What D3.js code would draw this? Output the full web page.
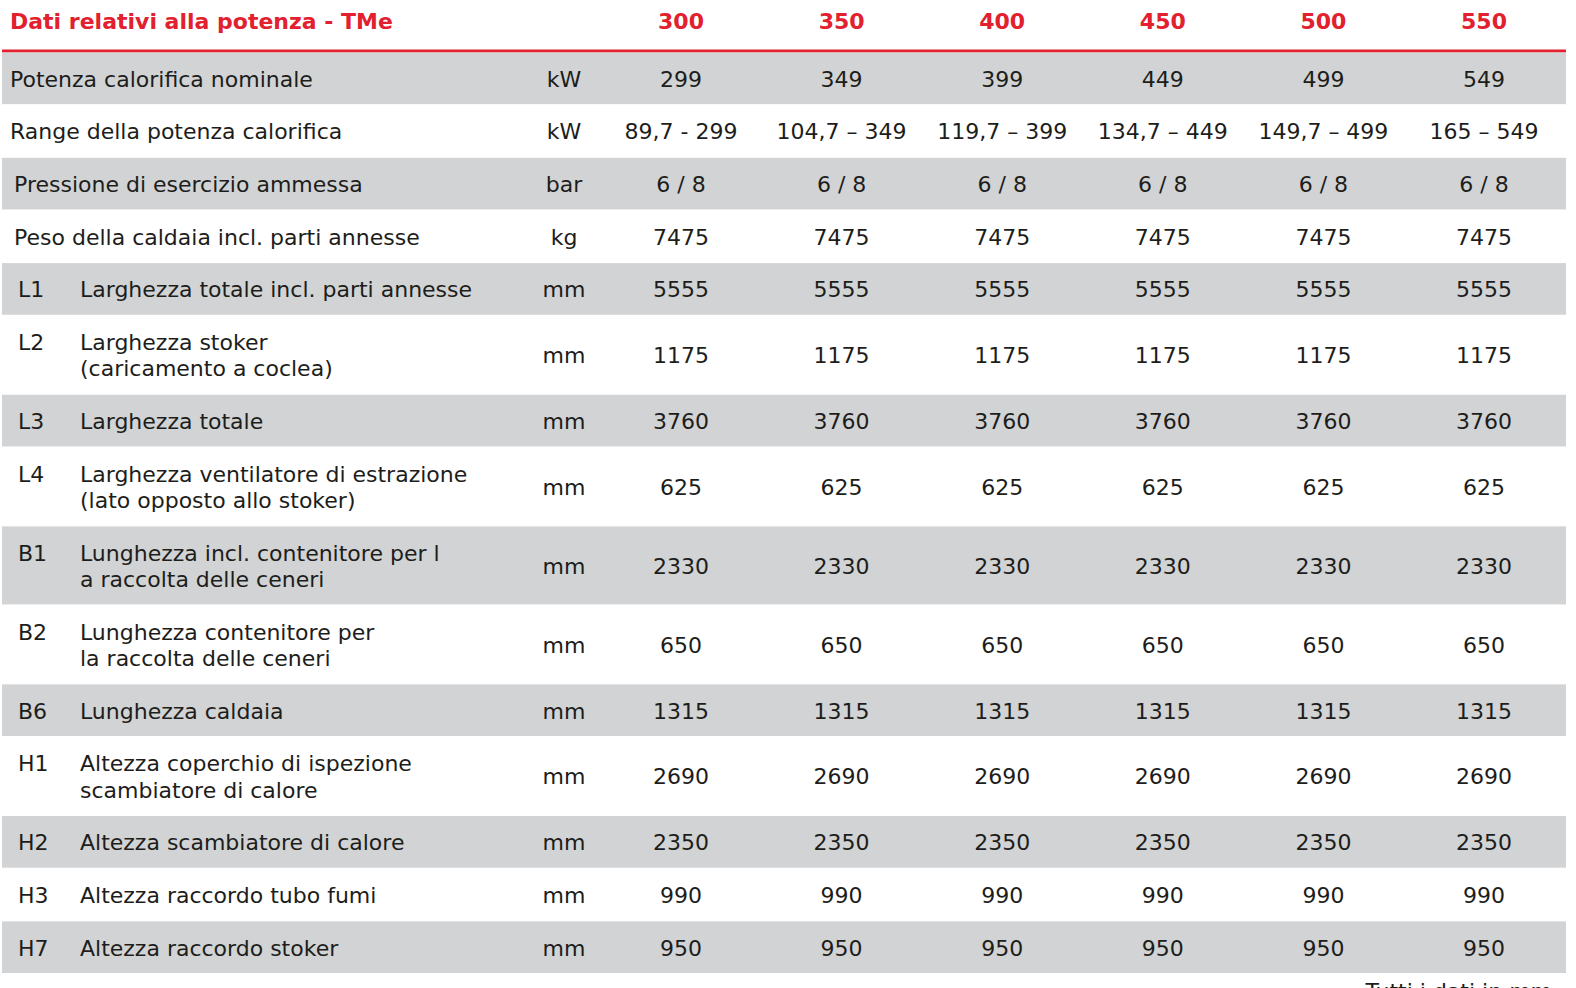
<!DOCTYPE html>
<html>
<head>
<meta charset="utf-8">
<script src="https://cdn.jsdelivr.net/npm/d3@7"></script>
<style>
  body { margin: 0; background: #fff; }
  svg text { font-family: "DejaVu Sans", Verdana, sans-serif; }
</style>
</head>
<body>
<div class="container"></div>
<script>
// table data
var title = "Dati relativi alla potenza - TMe";
var models = ["300", "350", "400", "450", "500", "550"];
var codes = ["", "", "", "", "L1", "L2", "L3", "L4", "B1", "B2", "B6", "H1", "H2", "H3", "H7"];
var labels = [
  ["Potenza calorifica nominale"],
  ["Range della potenza calorifica"],
  ["Pressione di esercizio ammessa"],
  ["Peso della caldaia incl. parti annesse"],
  ["Larghezza totale incl. parti annesse"],
  ["Larghezza stoker", "(caricamento a coclea)"],
  ["Larghezza totale"],
  ["Larghezza ventilatore di estrazione", "(lato opposto allo stoker)"],
  ["Lunghezza incl. contenitore per l", "a raccolta delle ceneri"],
  ["Lunghezza contenitore per", "la raccolta delle ceneri"],
  ["Lunghezza caldaia"],
  ["Altezza coperchio di ispezione", "scambiatore di calore"],
  ["Altezza scambiatore di calore"],
  ["Altezza raccordo tubo fumi"],
  ["Altezza raccordo stoker"]
];
var units = ["kW", "kW", "bar", "kg", "mm", "mm", "mm", "mm", "mm", "mm", "mm", "mm", "mm", "mm", "mm"];
var values = [
  ["299", "349", "399", "449", "499", "549"],
  ["89,7 - 299", "104,7 \u2013 349", "119,7 \u2013 399", "134,7 \u2013 449", "149,7 \u2013 499", "165 \u2013 549"],
  ["6 / 8", "6 / 8", "6 / 8", "6 / 8", "6 / 8", "6 / 8"],
  ["7475", "7475", "7475", "7475", "7475", "7475"],
  ["5555", "5555", "5555", "5555", "5555", "5555"],
  ["1175", "1175", "1175", "1175", "1175", "1175"],
  ["3760", "3760", "3760", "3760", "3760", "3760"],
  ["625", "625", "625", "625", "625", "625"],
  ["2330", "2330", "2330", "2330", "2330", "2330"],
  ["650", "650", "650", "650", "650", "650"],
  ["1315", "1315", "1315", "1315", "1315", "1315"],
  ["2690", "2690", "2690", "2690", "2690", "2690"],
  ["2350", "2350", "2350", "2350", "2350", "2350"],
  ["990", "990", "990", "990", "990", "990"],
  ["950", "950", "950", "950", "950", "950"]
];
var footnote = "Tutti i dati in mm";

var W = 1576, H = 988;
var left = 2, right = 1566;
var red = "#e2202e", grey = "#d1d3d4", ink = "#1d1d1b";
var singleH = 52.65, doubleH = 79, lineGap = 26.5;
var bodyTop = 52.5;

var svg = d3.select(".container").append("svg")
  .attr("width", W).attr("height", H);

var x = d3.scalePoint().domain(models).range([681, 1484]);

// row layout from line counts
var rows = labels.map(function(l, i) {
  return { i: i, code: codes[i], lines: l, unit: units[i], vals: values[i],
           h: l.length > 1 ? doubleH : singleH };
});
var yy = bodyTop;
rows.forEach(function(r) { r.y = yy; yy += r.h; });

// header
svg.append("text")
  .attr("x", 10).attr("y", 21).attr("dy", "0.36em")
  .style("font-size", "22px").style("font-weight", "bold").style("fill", red)
  .text(title);

svg.selectAll("text.model").data(models).enter().append("text")
  .attr("class", "model")
  .attr("x", function(d) { return x(d); }).attr("y", 21).attr("dy", "0.36em")
  .attr("text-anchor", "middle")
  .style("font-size", "22px").style("font-weight", "bold").style("fill", red)
  .text(function(d) { return d; });

svg.append("line")
  .attr("x1", left).attr("x2", right).attr("y1", 51).attr("y2", 51)
  .style("stroke", red).style("stroke-width", 3);

var g = svg.selectAll("g.row").data(rows).enter().append("g")
  .attr("class", "row")
  .attr("transform", function(d) { return "translate(0," + d.y + ")"; });

g.append("rect")
  .attr("x", left).attr("width", right - left)
  .attr("height", function(d) { return d.h - 1; })
  .style("fill", function(d) { return d.i % 2 === 0 ? grey : "#fff"; });

var fs = "22px";

g.filter(function(d) { return d.code; }).append("text")
  .attr("x", 18).attr("y", function(d) { return d.lines.length > 1 ? d.h / 2 - lineGap / 2 : d.h / 2; })
  .attr("dy", "0.36em")
  .style("font-size", fs).style("fill", ink)
  .text(function(d) { return d.code; });

g.each(function(d) {
  var lx = d.code ? 80 : (d.i < 2 ? 10 : 14);
  var n = d.lines.length;
  d3.select(this).selectAll("text.lab").data(d.lines).enter().append("text")
    .attr("class", "lab")
    .attr("x", lx)
    .attr("y", function(t, k) { return d.h / 2 + (k - (n - 1) / 2) * lineGap; })
    .attr("dy", "0.36em")
    .style("font-size", fs).style("fill", ink)
    .text(function(t) { return t; });
});

g.append("text")
  .attr("x", 564).attr("y", function(d) { return d.h / 2; }).attr("dy", "0.36em")
  .attr("text-anchor", "middle")
  .style("font-size", fs).style("fill", ink)
  .text(function(d) { return d.unit; });

g.selectAll("text.val").data(function(d) {
    return d.vals.map(function(v, k) { return { v: v, m: models[k], h: d.h }; });
  }).enter().append("text")
  .attr("class", "val")
  .attr("x", function(d) { return x(d.m); })
  .attr("y", function(d) { return d.h / 2; }).attr("dy", "0.36em")
  .attr("text-anchor", "middle")
  .style("font-size", fs).style("fill", ink)
  .text(function(d) { return d.v; });

svg.append("text")
  .attr("x", 1552).attr("y", 999)
  .attr("text-anchor", "end")
  .style("font-size", fs).style("fill", ink)
  .text(footnote);
</script>
</body>
</html>
